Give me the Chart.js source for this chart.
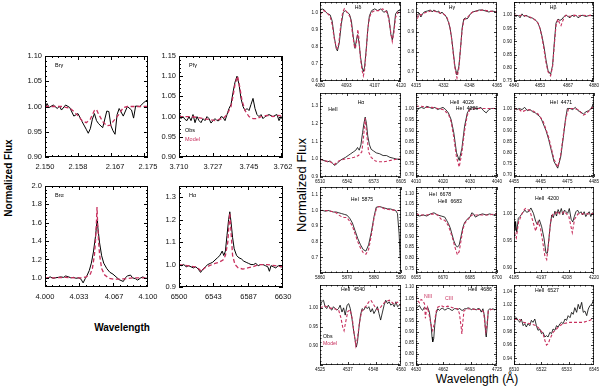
<!DOCTYPE html>
<html>
<head>
<meta charset="utf-8">
<script src="https://cdn.jsdelivr.net/npm/chart.js@4.4.1/dist/chart.umd.min.js"></script>
<style>
body { margin: 0; background: #fff; width: 600px; height: 386px; position: relative; overflow: hidden; font-family: "Liberation Sans", Arial, sans-serif; }
canvas { position: absolute; }
.lab { position: absolute; white-space: nowrap; color: #000; transform: translate(-50%, -50%); }
.rot { transform: translate(-50%, -50%) rotate(-90deg); }
</style>
</head>
<body>
<div class="lab rot" style="left:8px;top:178px;font-size:10px;font-weight:bold">Normalized Flux</div>
<div class="lab" style="left:122px;top:327px;font-size:10px;font-weight:bold">Wavelength</div>
<div class="lab rot" style="left:301px;top:185px;font-size:13px">Normalized Flux</div>
<div class="lab" style="left:477px;top:379px;font-size:12px">Wavelength (Å)</div>
<script>
// Spectra: [wavelength, normalized flux]
// --------------------------------------------

// left block (infrared / H alpha)
const brgObs = [[2.150,0.995],[2.1505,1.006],[2.151,0.998],[2.152,1.003],[2.153,0.996],[2.1535,1.001],[2.154,0.993],[2.155,1.003],[2.156,0.998],[2.157,0.981],[2.158,0.986],[2.159,0.970],[2.160,0.955],[2.1605,0.947],[2.161,0.956],[2.1615,0.975],[2.162,0.986],[2.1625,0.972],[2.163,0.966],[2.164,0.958],[2.165,0.991],[2.1655,0.990],[2.166,0.962],[2.1665,0.952],[2.167,0.945],[2.1675,0.984],[2.168,0.996],[2.169,0.981],[2.170,1.000],[2.171,0.993],[2.1715,0.977],[2.172,1.001],[2.173,1.000],[2.174,1.008],[2.175,1.014]]
const brgModel = [[2.150,1.0],[2.152,1.0],[2.154,1.0],[2.156,0.997],[2.157,0.99],[2.158,0.982],[2.159,0.972],[2.160,0.968],[2.161,0.975],[2.162,0.992],[2.1625,0.994],[2.163,0.985],[2.164,0.97],[2.165,0.962],[2.166,0.963],[2.1665,0.97],[2.1675,0.98],[2.168,0.985],[2.169,0.998],[2.170,1.0],[2.172,1.0],[2.175,1.0]]
const brgXTicks = [2.150, 2.158, 2.167, 2.175]
const brgYTicks = [0.90, 0.95, 1.00, 1.05, 1.10]

const pfgObs = [[3.710,1.010],[3.711,0.995],[3.712,1.0],[3.713,0.993],[3.714,0.99],[3.715,1.0],[3.716,0.99],[3.717,1.005],[3.718,0.985],[3.719,1.0],[3.720,0.99],[3.721,0.985],[3.722,0.995],[3.723,0.99],[3.724,1.0],[3.725,0.995],[3.726,0.984],[3.727,0.99],[3.728,0.995],[3.729,0.99],[3.730,0.99],[3.731,1.0],[3.732,0.998],[3.733,0.99],[3.734,1.005],[3.735,1.02],[3.736,1.03],[3.737,1.06],[3.738,1.085],[3.739,1.1],[3.740,1.08],[3.741,1.045],[3.742,1.025],[3.743,1.015],[3.744,1.02],[3.745,1.015],[3.746,1.03],[3.747,1.045],[3.748,1.02],[3.749,1.005],[3.750,1.0],[3.751,1.005],[3.752,0.995],[3.753,1.0],[3.755,1.005],[3.757,1.0],[3.758,1.003],[3.759,1.005],[3.760,0.99],[3.761,1.0],[3.762,0.99]]
const pfgModel = [[3.710,1.0],[3.713,1.0],[3.716,1.0],[3.719,0.998],[3.722,0.995],[3.725,0.993],[3.728,0.99],[3.730,0.993],[3.732,0.995],[3.734,1.005],[3.736,1.025],[3.737,1.05],[3.738,1.08],[3.7393,1.10],[3.7405,1.07],[3.7415,1.04],[3.743,1.015],[3.745,1.0],[3.747,0.995],[3.749,0.995],[3.751,1.0],[3.754,1.003],[3.757,1.0],[3.760,1.003],[3.762,1.0]]
const pfgXTicks = [3.710, 3.727, 3.745, 3.762]
const pfgYTicks = [0.90, 0.95, 1.00, 1.05, 1.10, 1.15]

const braObs = [[4.000,0.99],[4.003,1.0],[4.005,1.01],[4.008,0.995],[4.010,1.0],[4.013,1.005],[4.015,1.01],[4.018,1.005],[4.020,1.02],[4.023,1.01],[4.025,1.0],[4.028,1.005],[4.030,0.995],[4.033,1.0],[4.035,0.985],[4.037,0.945],[4.039,0.99],[4.041,1.03],[4.043,1.08],[4.045,1.16],[4.047,1.28],[4.049,1.45],[4.050,1.56],[4.0505,1.62],[4.051,1.58],[4.052,1.48],[4.053,1.38],[4.055,1.24],[4.057,1.16],[4.060,1.1],[4.063,1.06],[4.066,1.04],[4.069,1.01],[4.072,0.98],[4.076,0.96],[4.078,1.0],[4.080,1.02],[4.083,1.03],[4.085,1.0],[4.088,0.99],[4.090,0.975],[4.093,1.0],[4.095,1.01],[4.098,0.99],[4.100,1.01]]
const braModel = [[4.000,1.0],[4.010,1.0],[4.020,1.005],[4.030,1.0],[4.035,1.0],[4.040,1.01],[4.044,1.04],[4.046,1.1],[4.048,1.25],[4.049,1.4],[4.050,1.62],[4.0505,1.77],[4.051,1.62],[4.052,1.4],[4.053,1.25],[4.055,1.1],[4.058,1.03],[4.062,0.995],[4.067,0.985],[4.072,0.985],[4.078,0.99],[4.085,1.0],[4.090,1.0],[4.100,1.0]]
const braXTicks = [4.000, 4.033, 4.067, 4.100]
const braYTicks = [1.0, 1.2, 1.4, 1.6, 1.8, 2.0]

const haObs = [[6500,1.0],[6503,0.995],[6506,1.0],[6509,0.99],[6512,0.995],[6515,0.99],[6518,0.985],[6521,0.99],[6524,0.98],[6527,0.965],[6530,0.98],[6533,0.99],[6536,1.0],[6539,1.005],[6542,1.01],[6545,1.02],[6548,1.03],[6551,1.04],[6554,1.06],[6556,1.04],[6558,1.06],[6560,1.13],[6562,1.2],[6563.5,1.235],[6565,1.19],[6567,1.12],[6569,1.07],[6572,1.04],[6575,1.03],[6578,1.025],[6581,1.015],[6584,1.01],[6587,1.005],[6590,1.0],[6593,1.0],[6596,1.005],[6599,0.995],[6602,1.0],[6605,1.0],[6608,0.995],[6611,0.99],[6613,0.97],[6615,0.995],[6618,0.99],[6621,0.985],[6624,0.995],[6627,0.99],[6630,0.99]]
const haModel = [[6500,1.0],[6510,0.995],[6520,0.99],[6525,0.98],[6528,0.97],[6532,0.985],[6538,0.995],[6545,1.005],[6550,1.01],[6555,1.02],[6558,1.04],[6561,1.1],[6563.5,1.23],[6565.5,1.12],[6567,1.04],[6570,1.0],[6574,0.985],[6580,0.98],[6586,0.985],[6592,0.99],[6600,1.0],[6610,1.0],[6620,0.995],[6630,0.99]]
const haXTicks = [6500, 6543, 6587, 6630]
const haYTicks = [0.9, 1.0, 1.1, 1.2, 1.3]

// right block (optical lines)
const hdObs = [[4080,1.01],[4081,1.02],[4082,1.015],[4083,1.0],[4084,0.99],[4085,0.985],[4086,0.95],[4087,0.86],[4088,0.79],[4088.6,0.775],[4089.5,0.82],[4090.5,0.93],[4091.5,1.0],[4092.5,1.01],[4093.5,1.0],[4094.5,0.99],[4095.5,0.95],[4096.5,0.85],[4097.3,0.79],[4098,0.84],[4098.6,0.87],[4099.3,0.82],[4100,0.74],[4100.8,0.68],[4101.4,0.655],[4102,0.68],[4102.8,0.78],[4103.6,0.9],[4104.4,0.98],[4105.5,1.01],[4107,1.02],[4108.5,1.01],[4110,1.02],[4111.5,1.0],[4113,1.01],[4114,0.97],[4115,0.87],[4115.7,0.84],[4116.5,0.9],[4117.3,0.99],[4118.5,1.01],[4120,1.01]]
const hdModel = [[4080,0.985],[4081,1.0],[4082,1.01],[4083,1.0],[4084,0.99],[4085,0.975],[4086,0.93],[4087,0.85],[4088,0.8],[4088.6,0.79],[4089.3,0.82],[4090.2,0.92],[4091.2,1.0],[4092,1.02],[4093,1.005],[4094,0.99],[4095,0.97],[4096,0.88],[4097,0.8],[4097.5,0.79],[4098.2,0.84],[4098.7,0.9],[4099.2,0.85],[4100,0.73],[4100.8,0.66],[4101.4,0.63],[4102,0.66],[4102.8,0.77],[4103.6,0.9],[4104.4,0.97],[4105.5,1.0],[4107,1.01],[4109,1.01],[4111,1.02],[4113,1.0],[4114,0.96],[4115,0.88],[4115.7,0.83],[4116.5,0.88],[4117.3,0.97],[4118.5,1.0],[4119.3,0.99],[4120,1.0]]
const hdXTicks = [4080, 4093, 4107, 4120]
const hdYTicks = [0.6, 0.7, 0.8, 0.9, 1.0]

const hgObs = [[4315,0.99],[4316,0.985],[4317,0.995],[4318,0.975],[4319,0.99],[4320,1.0],[4322,1.005],[4324,1.01],[4325,1.0],[4326,1.01],[4328,1.0],[4329,1.005],[4330,0.99],[4331,1.0],[4332,0.99],[4333,0.985],[4334,0.97],[4335,0.95],[4336,0.92],[4337,0.87],[4338,0.8],[4339,0.73],[4340.3,0.685],[4341.5,0.73],[4342.5,0.82],[4343.5,0.92],[4344.5,0.965],[4345.5,0.97],[4346.5,0.965],[4347.5,0.975],[4348.5,0.99],[4350,1.0],[4352,1.005],[4354,1.01],[4356,1.01],[4358,1.005],[4360,1.0],[4362,1.005],[4365,1.0]]
const hgModel = [[4315,0.995],[4316,0.97],[4317,0.99],[4318,0.985],[4320,0.995],[4322,1.0],[4324,1.005],[4326,1.005],[4328,1.0],[4330,0.995],[4332,0.99],[4334,0.975],[4335,0.955],[4336,0.92],[4337,0.865],[4338,0.79],[4339,0.72],[4340.3,0.67],[4341.5,0.72],[4342.5,0.82],[4343.5,0.91],[4344.5,0.96],[4345.5,0.965],[4347,0.975],[4348.5,0.99],[4350,1.0],[4353,1.005],[4356,1.01],[4360,1.005],[4365,1.0]]
const hgXTicks = [4315, 4332, 4348, 4365]
const hgYTicks = [0.7, 0.8, 0.9, 1.0]

const hbObs = [[4840,1.0],[4841,0.995],[4842,1.0],[4843,0.99],[4844,1.005],[4845,0.995],[4846,1.0],[4847,0.995],[4848,0.99],[4849,0.99],[4850,0.985],[4851,0.98],[4852,0.97],[4853,0.95],[4854,0.92],[4855,0.88],[4856,0.83],[4857,0.79],[4858.3,0.775],[4859.3,0.81],[4860.2,0.9],[4861,0.97],[4862,0.985],[4863,0.98],[4864,0.985],[4865,0.995],[4866,1.0],[4867,0.995],[4868,0.99],[4869,1.0],[4870,0.995],[4871,1.0],[4872,0.99],[4874,1.0],[4876,0.995],[4878,1.0],[4880,0.995]]
const hbModel = [[4840,1.0],[4842,0.998],[4844,1.0],[4846,0.997],[4848,0.993],[4850,0.985],[4852,0.97],[4853,0.95],[4854,0.915],[4855,0.87],[4856,0.82],[4857,0.785],[4858.3,0.77],[4859.3,0.805],[4860.2,0.89],[4861,0.96],[4862,0.985],[4863,0.965],[4863.5,0.96],[4864.2,0.975],[4865,0.99],[4866,1.0],[4868,0.995],[4870,1.0],[4872,0.997],[4874,1.0],[4877,0.998],[4880,1.0]]
const hbXTicks = [4840, 4853, 4867, 4880]
const hbYTicks = [0.75, 0.80, 0.85, 0.90, 0.95, 1.00]

const he6560Obs = [[6510,1.0],[6513,0.995],[6516,0.99],[6519,0.985],[6522,0.99],[6525,0.975],[6527,0.965],[6530,0.975],[6533,0.99],[6536,1.0],[6540,1.01],[6543,1.02],[6546,1.03],[6549,1.04],[6552,1.05],[6554,1.065],[6556,1.05],[6558,1.08],[6560,1.15],[6561.5,1.2],[6563,1.235],[6564.5,1.2],[6566,1.13],[6568,1.08],[6570,1.055],[6573,1.045],[6576,1.035],[6580,1.03],[6584,1.02],[6588,1.02],[6592,1.01],[6596,1.005],[6600,1.0],[6603,1.0],[6605,0.99]]
const he6560Model = [[6510,1.0],[6516,0.99],[6522,0.985],[6527,0.97],[6532,0.99],[6538,1.0],[6545,1.005],[6550,1.01],[6555,1.02],[6559,1.04],[6561,1.12],[6563,1.23],[6565,1.13],[6567,1.04],[6570,1.01],[6575,0.99],[6580,0.985],[6585,0.985],[6590,0.99],[6595,0.995],[6600,1.0],[6605,1.0]]
const he6560XTicks = [6510, 6542, 6573, 6605]
const he6560YTicks = [0.9, 1.0, 1.1, 1.2, 1.3]

const he4026Obs = [[4010,0.98],[4011,1.0],[4012,1.005],[4013,1.0],[4014,1.01],[4015,1.005],[4016,1.0],[4017,1.005],[4018,0.995],[4019,1.0],[4020,1.005],[4021,0.995],[4022,0.98],[4023,0.95],[4024,0.89],[4025,0.8],[4026,0.765],[4027,0.82],[4028,0.92],[4029,0.98],[4030,1.0],[4031,1.005],[4032,1.0],[4033,1.0],[4034,1.005],[4035,0.99],[4036,0.98],[4037,0.995],[4038,1.0],[4039,1.0],[4040,0.995]]
const he4026Model = [[4010,1.01],[4012,1.01],[4014,1.005],[4016,1.005],[4018,1.0],[4020,0.995],[4022,0.975],[4023,0.94],[4024,0.87],[4025,0.78],[4026,0.735],[4027,0.8],[4028,0.9],[4029,0.97],[4030,0.995],[4032,1.0],[4034,1.0],[4036,1.0],[4038,1.0],[4040,1.0]]
const he4026XTicks = [4010, 4020, 4030, 4040]
const he4026YTicks = [0.70, 0.75, 0.80, 0.85, 0.90, 0.95, 1.00]

const he4471Obs = [[4455,1.0],[4456,0.995],[4457,1.0],[4458,0.995],[4459,1.005],[4460,0.99],[4461,0.995],[4462,0.985],[4463,0.98],[4464,0.97],[4465,0.96],[4466,0.93],[4467,0.9],[4468,0.86],[4469,0.81],[4470,0.76],[4471.4,0.73],[4472.5,0.78],[4473.5,0.87],[4474.3,0.95],[4475,1.0],[4476,1.0],[4477,0.995],[4478,1.005],[4479,0.99],[4480,0.985],[4481,0.975],[4482,0.985],[4483,0.99],[4484,1.0],[4485,1.03]]
const he4471Model = [[4455,1.0],[4457,0.995],[4458,0.985],[4460,0.995],[4462,0.99],[4464,0.975],[4466,0.94],[4468,0.87],[4470,0.77],[4471.4,0.735],[4472.5,0.79],[4473.5,0.88],[4474.5,0.96],[4475.5,1.0],[4477,1.0],[4479,0.995],[4481,0.97],[4482,0.975],[4484,1.0],[4485,1.01]]
const he4471XTicks = [4455, 4465, 4475, 4485]
const he4471YTicks = [0.70, 0.75, 0.80, 0.85, 0.90, 0.95, 1.00]

const he5875Obs = [[5860,1.0],[5861,1.0],[5862,0.995],[5863,1.0],[5864,0.995],[5865,0.99],[5866,0.99],[5867,0.985],[5868,0.98],[5869,0.975],[5870,0.97],[5871,0.95],[5872,0.92],[5873,0.87],[5874,0.82],[5875,0.78],[5876,0.75],[5877,0.74],[5878,0.78],[5879,0.86],[5880,0.96],[5880.8,1.02],[5882,1.025],[5883,1.02],[5884,1.015],[5885,1.01],[5886,1.01],[5887,1.005],[5888,1.0],[5888.7,0.98],[5889.3,0.85],[5889.7,0.7],[5890,0.65]]
const he5875Model = [[5860,1.0],[5862,1.0],[5864,0.995],[5866,0.985],[5867,0.97],[5868,0.96],[5869,0.955],[5870,0.955],[5871,0.93],[5872,0.9],[5873,0.85],[5874,0.8],[5875,0.76],[5876,0.73],[5877,0.72],[5878,0.75],[5879,0.84],[5880,0.95],[5881,1.02],[5882,1.025],[5884,1.01],[5886,1.005],[5888,1.0],[5890,1.0]]
const he5875XTicks = [5860, 5870, 5880, 5890]
const he5875YTicks = [0.7, 0.8, 0.9, 1.0, 1.1]

const he6678Obs = [[6655,1.0],[6657,0.995],[6659,1.0],[6661,0.995],[6663,1.005],[6665,1.01],[6667,1.0],[6669,0.995],[6671,0.99],[6672,0.975],[6673,0.96],[6674,0.94],[6675,0.91],[6676,0.88],[6677,0.86],[6678,0.85],[6679,0.86],[6680,0.9],[6681,0.94],[6682,0.965],[6683,0.975],[6684,0.985],[6685,0.99],[6686,1.01],[6687,1.005],[6688,0.99],[6690,1.0],[6692,1.005],[6694,1.0],[6696,1.005],[6698,1.0],[6700,1.005]]
const he6678Model = [[6655,1.005],[6658,1.0],[6661,1.0],[6664,1.005],[6667,1.0],[6669,0.98],[6671,0.975],[6673,0.95],[6675,0.9],[6677,0.84],[6678,0.815],[6679,0.83],[6680,0.88],[6681,0.93],[6682,0.96],[6684,0.98],[6686,1.0],[6690,1.0],[6695,1.0],[6700,1.005]]
const he6678XTicks = [6655, 6670, 6685, 6700]
const he6678YTicks = [0.75, 0.80, 0.85, 0.90, 0.95, 1.00, 1.05, 1.10]

const he4200Obs = [[4185,0.985],[4185.4,0.97],[4185.7,0.986],[4186.2,0.966],[4186.9,0.992],[4187.6,0.995],[4188.6,1.001],[4189.8,1.007],[4190.5,1.003],[4191.3,1.004],[4192.4,1.011],[4193.5,1.001],[4194.5,0.986],[4195.2,0.98],[4196.1,0.989],[4197.1,0.976],[4198.1,0.955],[4199.0,0.927],[4199.6,0.927],[4200.0,0.942],[4200.8,0.976],[4201.5,0.998],[4202.2,0.993],[4202.9,1.005],[4203.6,0.996],[4204.3,1.008],[4205,1.001],[4205.7,1.01],[4206.4,0.998],[4207.1,1.007],[4207.8,1.004],[4208.5,1.001],[4209.2,1.01],[4210,0.99],[4210.7,0.985],[4211.4,0.995],[4212.1,1.004],[4212.8,1.007],[4213.6,1.001],[4214.3,1.004],[4215,0.998],[4215.7,1.004],[4216.4,0.995],[4217.2,1.001],[4217.9,1.004],[4218.6,0.995],[4219.3,1.002],[4220,1.0]]
const he4200Model = [[4185,0.975],[4185.5,0.96],[4186,0.955],[4187,0.985],[4188,0.995],[4189,1.005],[4190,1.01],[4191,1.008],[4192,1.005],[4193,0.99],[4194,0.975],[4194.5,0.968],[4195.5,0.985],[4196.5,0.975],[4197.5,0.95],[4198.5,0.922],[4199.3,0.915],[4200,0.94],[4201,0.985],[4202,1.0],[4203,1.0],[4204,1.005],[4205,1.0],[4206,1.0],[4207,1.005],[4208,1.0],[4209,0.995],[4210,0.975],[4210.5,0.965],[4211.5,0.99],[4213,1.0],[4215,1.0],[4217,1.0],[4220,1.0]]
const he4200XTicks = [4185, 4197, 4208, 4220]
const he4200YTicks = [0.90, 0.95, 1.00]

const he4540Obs = [[4525,1.003],[4525.7,1.016],[4526.5,1.02],[4527.2,1.003],[4527.9,0.998],[4528.6,1.007],[4529.4,0.998],[4530.1,0.994],[4530.8,1.003],[4531.6,0.998],[4532.3,0.994],[4533.0,0.998],[4533.7,1.007],[4534.5,0.989],[4535.2,1.0],[4535.9,0.981],[4536.7,1.007],[4537.4,1.011],[4538.1,0.998],[4538.8,0.972],[4539.6,0.937],[4540.3,0.911],[4540.7,0.897],[4541.2,0.911],[4541.8,0.946],[4542.5,0.981],[4543.2,0.998],[4543.9,0.994],[4544.7,1.003],[4545.4,0.998],[4546.1,1.003],[4546.9,0.989],[4547.6,0.998],[4548.3,0.985],[4549.1,0.994],[4549.8,1.003],[4550.5,0.985],[4551.2,0.968],[4552.0,0.989],[4552.7,1.007],[4553.4,1.02],[4554.2,1.011],[4554.9,1.016],[4555.6,1.007],[4556.3,1.011],[4557.1,1.003],[4557.8,1.016],[4558.5,1.003],[4559.3,1.007],[4560,1.011]]
const he4540Model = [[4525,1.0],[4527,1.005],[4529,1.0],[4531,0.998],[4533,0.995],[4534,0.975],[4534.8,0.95],[4535.4,0.94],[4536,0.96],[4537,0.99],[4538,0.995],[4539,0.97],[4539.8,0.93],[4540.5,0.9],[4541.2,0.92],[4542,0.96],[4543,0.99],[4544,1.0],[4545,1.005],[4546,1.015],[4547,1.02],[4548,1.01],[4549,1.0],[4550,0.995],[4551,1.0],[4552,1.008],[4553,1.015],[4555,1.02],[4557,1.01],[4558.5,1.015],[4560,1.005]]
const he4540XTicks = [4525, 4537, 4548, 4560]
const he4540YTicks = [0.90, 0.95, 1.00]

const he4686Obs = [[4630,1.003],[4632,1.01],[4633.9,1.018],[4635.9,1.003],[4637.9,0.996],[4639.8,1.01],[4641.8,1.003],[4643.7,1.01],[4645.7,0.988],[4647.7,0.929],[4648.8,0.876],[4649.6,0.854],[4650.8,0.869],[4652,0.929],[4653.6,0.981],[4655.5,1.003],[4657.5,0.996],[4659.4,1.003],[4661.4,1.006],[4663.4,0.997],[4665.3,1.0],[4667.3,1.006],[4669.3,1.003],[4671.2,0.997],[4673.2,0.996],[4675.2,1.004],[4677.1,1.003],[4679.1,0.998],[4681,1.006],[4683,0.997],[4685,0.996],[4686.9,1.003],[4688.9,1.003],[4690.9,1.007],[4692.8,1.006],[4694.8,0.998],[4696.7,1.003],[4698.7,1.001],[4700.7,0.998],[4702.6,1.004],[4704.6,1.003],[4706.6,0.988],[4708.5,1.003],[4710.5,0.966],[4711.7,0.891],[4712.4,0.876],[4713.6,0.929],[4714.8,0.996],[4716.4,1.003],[4718.3,1.0],[4720.3,1.003],[4722.3,0.998],[4725,1.003]]
const he4686Model = [[4630,1.06],[4632,1.04],[4634,1.03],[4636,1.045],[4638,1.04],[4640,1.025],[4641,0.96],[4642,0.99],[4643.5,1.01],[4645.7,0.97],[4647.7,0.93],[4649.6,0.905],[4651.6,0.94],[4653.6,0.99],[4655.5,1.01],[4659.4,1.018],[4663.4,1.01],[4667.3,1.015],[4671.2,1.01],[4675,1.005],[4679,1.003],[4681,0.98],[4683,0.92],[4683.8,0.89],[4684.6,0.93],[4686.3,0.995],[4690,1.003],[4700,1.0],[4706,1.0],[4709.3,0.988],[4710.9,0.93],[4712,0.9],[4713.2,0.93],[4714.8,0.995],[4718.3,1.0],[4725,1.0]]
const he4686XTicks = [4630, 4662, 4693, 4725]
const he4686YTicks = [0.75, 0.80, 0.85, 0.90, 0.95, 1.00, 1.05, 1.10]

const he6527Obs = [[6510,0.999],[6511,1.001],[6511.8,0.997],[6512.5,0.994],[6513.2,0.999],[6514,0.989],[6514.7,0.992],[6515.4,0.987],[6516.1,0.992],[6516.9,0.989],[6517.6,0.997],[6518.3,0.994],[6519.1,0.999],[6519.8,0.989],[6520.5,0.982],[6521.3,0.984],[6522,0.977],[6522.7,0.979],[6523.5,0.972],[6524.2,0.974],[6524.9,0.972],[6525.7,0.979],[6526.4,0.977],[6527.1,0.984],[6527.9,0.982],[6528.6,0.989],[6529.3,0.987],[6530.1,0.992],[6530.8,0.994],[6531.5,0.992],[6532.3,0.999],[6533,0.997],[6533.7,1.004],[6534.5,1.001],[6535.2,1.009],[6535.9,1.006],[6536.6,1.016],[6537.4,1.009],[6538.1,1.021],[6538.8,1.014],[6539.6,1.024],[6540.3,1.009],[6541,1.011],[6541.8,1.004],[6542.5,1.014],[6543.2,1.019],[6544,1.021],[6545,1.029]]
const he6527Model = [[6510,0.999],[6512.5,0.998],[6514,0.994],[6517,0.992],[6519.8,0.989],[6521.2,0.984],[6522.7,0.977],[6523.5,0.967],[6524.2,0.96],[6525,0.962],[6525.7,0.969],[6527.1,0.979],[6528.6,0.984],[6530,0.989],[6531.5,0.992],[6534.4,0.994],[6537.4,0.994],[6540.3,0.994],[6543.2,0.997],[6545,1.0]]
const he6527XTicks = [6510, 6522, 6533, 6545]
const he6527YTicks = [0.94, 0.96, 0.98, 1.00, 1.02, 1.04]


// Panel layout: frame = [left, top, right, bottom] in page pixels
// notes = [text, dx, dy, colour, align] relative to the frame corner
// --------------------------------------------
const RED = '#c8305e'

const panels = [
    { obs: brgObs, model: brgModel, xt: brgXTicks, yt: brgYTicks, x: [2.150, 2.175], y: [0.90, 1.10], xd: 3, yd: 2, big: true, frame: [45, 56, 148, 157], notes: [['Brγ', 10, 9, '#000', 'left']] },
    { obs: pfgObs, model: pfgModel, xt: pfgXTicks, yt: pfgYTicks, x: [3.710, 3.762], y: [0.90, 1.15], xd: 3, yd: 2, big: true, frame: [179, 56, 283, 157], notes: [['Pfγ', 10, 9, '#000', 'left'], ['Obs', 6, 74, '#000', 'left'], ['Model', 6, 83, RED, 'left']] },
    { obs: braObs, model: braModel, xt: braXTicks, yt: braYTicks, x: [4.000, 4.100], y: [0.9, 2.0], xd: 3, yd: 1, big: true, frame: [45, 186, 148, 287], notes: [['Brα', 10, 9, '#000', 'left']] },
    { obs: haObs, model: haModel, xt: haXTicks, yt: haYTicks, x: [6500, 6630], y: [0.9, 1.35], xd: 0, yd: 1, big: true, frame: [179, 186, 283, 287], notes: [['Hα', 10, 9, '#000', 'left']] },

    { obs: hdObs, model: hdModel, xt: hdXTicks, yt: hdYTicks, x: [4080, 4120], y: [0.6, 1.06], xd: 0, yd: 1, frame: [320, 2, 401, 81], notes: [['Hδ', 38, 6, '#000', 'center']] },
    { obs: hgObs, model: hgModel, xt: hgXTicks, yt: hgYTicks, x: [4315, 4365], y: [0.655, 1.05], xd: 0, yd: 1, frame: [416, 2, 497, 81], notes: [['Hγ', 36, 6, '#000', 'center']] },
    { obs: hbObs, model: hbModel, xt: hbXTicks, yt: hbYTicks, x: [4840, 4880], y: [0.75, 1.05], xd: 0, yd: 2, frame: [514, 2, 594, 81], notes: [['Hβ', 39, 6, '#000', 'center']] },

    { obs: he6560Obs, model: he6560Model, xt: he6560XTicks, yt: he6560YTicks, x: [6510, 6605], y: [0.9, 1.37], xd: 0, yd: 1, frame: [320, 93, 401, 177], notes: [['HeII', 13, 17, '#000', 'center'], ['Hα', 41, 10, '#000', 'center']] },
    { obs: he4026Obs, model: he4026Model, xt: he4026XTicks, yt: he4026YTicks, x: [4010, 4040], y: [0.69, 1.07], xd: 0, yd: 2, frame: [416, 93, 497, 177], notes: [['HeII  4026', 46, 10, '#000', 'center'], ['HeI  4026', 51, 16, '#000', 'center']] },
    { obs: he4471Obs, model: he4471Model, xt: he4471XTicks, yt: he4471YTicks, x: [4455, 4485], y: [0.69, 1.07], xd: 0, yd: 2, frame: [514, 93, 594, 177], notes: [['HeI  4471', 47, 10, '#000', 'center']] },

    { obs: he5875Obs, model: he5875Model, xt: he5875XTicks, yt: he5875YTicks, x: [5860, 5890], y: [0.60, 1.15], xd: 0, yd: 1, frame: [320, 187, 401, 273], notes: [['HeI  5875', 42, 13, '#000', 'center']] },
    { obs: he6678Obs, model: he6678Model, xt: he6678XTicks, yt: he6678YTicks, x: [6655, 6700], y: [0.73, 1.13], xd: 0, yd: 2, frame: [416, 187, 497, 273], notes: [['HeI  6678', 24, 8, '#000', 'center'], ['HeII  6683', 34, 15, '#000', 'center']] },
    { obs: he4200Obs, model: he4200Model, xt: he4200XTicks, yt: he4200YTicks, x: [4185, 4220], y: [0.89, 1.05], xd: 0, yd: 2, frame: [514, 187, 594, 273], notes: [['HeII  4200', 33, 12, '#000', 'center']] },

    { obs: he4540Obs, model: he4540Model, xt: he4540XTicks, yt: he4540YTicks, x: [4525, 4560], y: [0.85, 1.06], xd: 0, yd: 2, frame: [320, 285, 401, 365], notes: [['HeII  4540', 33, 5, '#000', 'center'], ['Obs', 3, 52, '#000', 'left'], ['Model', 3, 59, RED, 'left']] },
    { obs: he4686Obs, model: he4686Model, xt: he4686XTicks, yt: he4686YTicks, x: [4630, 4725], y: [0.75, 1.11], xd: 0, yd: 2, frame: [416, 285, 497, 365], notes: [['HeII  4686', 64, 5, '#000', 'center'], ['NIII', 12, 12, RED, 'center'], ['CIII', 33, 14, RED, 'center']] },
    { obs: he6527Obs, model: he6527Model, xt: he6527XTicks, yt: he6527YTicks, x: [6510, 6545], y: [0.93, 1.05], xd: 0, yd: 2, frame: [514, 285, 594, 365], notes: [['HeII  6527', 33, 6, '#000', 'center']] },
]

Chart.defaults.font.family = "'Liberation Sans', Arial, sans-serif"


// Draws the box with inward major/minor ticks on all four sides
// --------------------------------------------
function axisMarks(ctx, scale, ticks, area, horiz, big) {
    const n = 5
    const step = (ticks[1] - ticks[0]) / n
    const major = big ? 4 : 3
    const minor = big ? 2 : 1.5
    ctx.beginPath()
    for (let k = -4 * n; k <= (ticks.length + 3) * n; k++) {
        const v = ticks[0] + k * step
        if (v < scale.min - 1e-9 || v > scale.max + 1e-9) continue
        const len = k % n === 0 ? major : minor
        const p = Math.round(scale.getPixelForValue(v)) + 0.5
        if (horiz) {
            ctx.moveTo(p, area.bottom); ctx.lineTo(p, area.bottom - len)
            ctx.moveTo(p, area.top); ctx.lineTo(p, area.top + len)
        } else {
            ctx.moveTo(area.left, p); ctx.lineTo(area.left + len, p)
            ctx.moveTo(area.right, p); ctx.lineTo(area.right - len, p)
        }
    }
    ctx.stroke()
}


// Builds one panel as its own chart
// --------------------------------------------
function makePanel(p) {
    const big = !!p.big
    const [l, t, r, b] = p.frame
    const yW = big ? 44 : 22
    const xH = big ? 22 : 12
    const tp = Math.min(6, t)
    const rp = big ? 14 : 6

    const canvas = document.createElement('canvas')
    canvas.width = yW + (r - l) + rp
    canvas.height = tp + (b - t) + xH
    canvas.style.left = (l - yW) + 'px'
    canvas.style.top = (t - tp) + 'px'
    document.body.appendChild(canvas)

    const tickFont = { size: big ? 7.5 : 4.6 }

    const frame = {
        id: 'frame',
        afterDatasetsDraw(chart) {
            const ctx = chart.ctx
            const a = chart.chartArea
            ctx.save()
            ctx.strokeStyle = '#000'
            ctx.lineWidth = big ? 1 : 0.8
            ctx.strokeRect(a.left + 0.5, a.top + 0.5, a.right - a.left - 1, a.bottom - a.top - 1)
            axisMarks(ctx, chart.scales.x, p.xt, a, true, big)
            axisMarks(ctx, chart.scales.y, p.yt, a, false, big)
            ctx.font = (big ? 5.5 : 5.2) + "px 'Liberation Sans', Arial, sans-serif"
            ctx.textBaseline = 'middle'
            for (const [txt, dx, dy, col, al] of p.notes) {
                ctx.fillStyle = col
                ctx.textAlign = al
                ctx.fillText(txt, a.left + dx, a.top + dy)
            }
            ctx.restore()
        }
    }

    new Chart(canvas.getContext('2d'), {
        type: 'line',
        data: {
            datasets: [{
                data: p.model.map(d => ({ x: d[0], y: d[1] })),
                borderColor: RED,
                borderWidth: big ? 1.3 : 1.1,
                borderDash: big ? [4, 2.5] : [3, 2],
                pointRadius: 0,
                tension: 0,
                order: 0
            }, {
                data: p.obs.map(d => ({ x: d[0], y: d[1] })),
                borderColor: '#000',
                borderWidth: big ? 1 : 0.8,
                pointRadius: 0,
                tension: 0,
                order: 1
            }]
        },
        options: {
            responsive: false,
            animation: false,
            devicePixelRatio: 1,
            layout: { padding: { top: tp, right: rp, left: 0, bottom: 0 } },
            plugins: { legend: { display: false }, tooltip: { enabled: false } },
            scales: {
                x: {
                    type: 'linear', min: p.x[0], max: p.x[1],
                    grid: { display: false, drawTicks: false },
                    border: { display: false },
                    ticks: { font: tickFont, color: '#111', padding: big ? 5 : 2, maxRotation: 0, autoSkip: false, callback: v => v.toFixed(p.xd) },
                    afterBuildTicks: s => { s.ticks = p.xt.map(v => ({ value: v })) },
                    afterFit: s => { s.height = xH; s.paddingLeft = 0; s.paddingRight = 0 }
                },
                y: {
                    type: 'linear', min: p.y[0], max: p.y[1],
                    grid: { display: false, drawTicks: false },
                    border: { display: false },
                    ticks: { font: tickFont, color: '#111', padding: big ? 3 : 2, autoSkip: false, callback: v => v.toFixed(p.yd) },
                    afterBuildTicks: s => { s.ticks = p.yt.map(v => ({ value: v })) },
                    afterFit: s => { s.width = yW; s.paddingTop = 0; s.paddingBottom = 0 }
                }
            }
        },
        plugins: [frame]
    })
}

// Main program flow
// --------------------------------------------
for (const p of panels) makePanel(p)
</script>
</body>
</html>
